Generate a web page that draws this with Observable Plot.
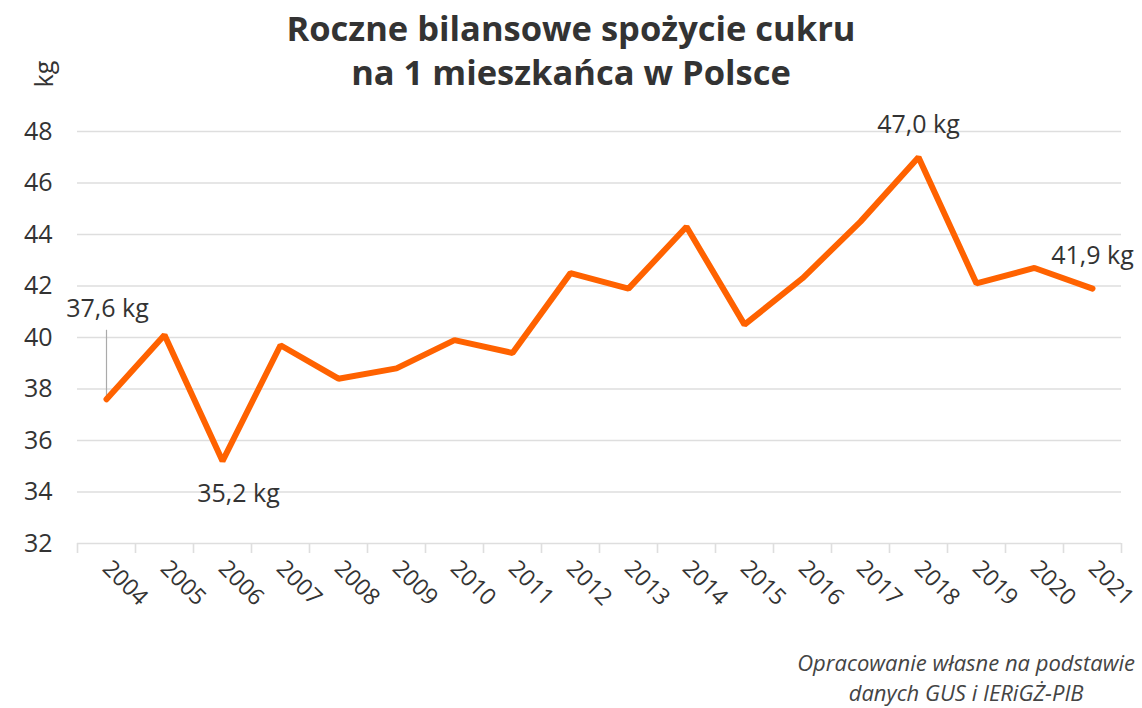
<!DOCTYPE html>
<html>
<head>
<meta charset="utf-8">
<script src="https://cdn.jsdelivr.net/npm/d3@7"></script>
<script src="https://cdn.jsdelivr.net/npm/@observablehq/plot@0.6"></script>
<style>
  html, body { margin: 0; padding: 0; background: #fff; }
  #wrap { position: relative; width: 1142px; height: 708px; overflow: hidden; font-family: "Open Sans", sans-serif; }
  #title { position: absolute; left: 0; top: 6px; width: 1142px; text-align: center; font-weight: 700; font-size: 34.5px; line-height: 44px; color: #333; }
  #caption { position: absolute; right: 7px; top: 647px; text-align: center; font-style: italic; font-size: 22px; line-height: 30px; color: #444; }
  #chart { position: absolute; left: 0; top: 0; }
</style>
</head>
<body>
<div id="wrap">
  <div id="chart"></div>
  <div id="title">Roczne bilansowe spożycie cukru<br>na 1 mieszkańca w Polsce</div>
  <div id="caption">Opracowanie własne na podstawie<br>danych GUS i IERiGŻ-PIB</div>
</div>
<script>
const years = [2004, 2005, 2006, 2007, 2008, 2009, 2010, 2011, 2012, 2013, 2014, 2015, 2016, 2017, 2018, 2019, 2020, 2021];
const consumption = [37.6, 40.1, 35.2, 39.7, 38.4, 38.8, 39.9, 39.4, 42.5, 41.9, 44.3, 40.5, 42.3, 44.5, 47.0, 42.1, 42.7, 41.9];
const yTicks = [32, 34, 36, 38, 40, 42, 44, 46, 48];
const unitLabel = "kg";

const data = years.map((year, i) => ({year, value: consumption[i]}));
const fmt = v => v.toFixed(1).replace(".", ",") + " " + unitLabel;
const pick = y => data.filter(d => d.year === y);
const bounds = years.map(y => y - 0.5).concat([years[years.length - 1] + 0.5]);

const textColor = "#333";
const gridColor = "#dedede";
const orange = "#ff6200";

const chart = Plot.plot({
  width: 1142,
  height: 708,
  marginTop: 131,
  marginBottom: 165,
  marginLeft: 77,
  marginRight: 21,
  style: {fontFamily: "'Open Sans', sans-serif", fontSize: "25px", color: textColor, background: "transparent", overflow: "visible"},
  x: {domain: [bounds[0], bounds[bounds.length - 1]]},
  y: {domain: [32, 48]},
  marks: [
    Plot.gridY(yTicks, {stroke: gridColor, strokeOpacity: 1, strokeWidth: 1.6}),
    Plot.axisY({ticks: yTicks, tickSize: 0, tickPadding: 25, label: null, fill: textColor, fontSize: 25}),
    Plot.axisX({ticks: bounds, tickSize: 10, tickFormat: () => "", label: null, stroke: gridColor, strokeWidth: 1.6}),
    Plot.axisX({ticks: years, tickSize: 0, tickPadding: 21, tickRotate: 45, tickFormat: d => String(d), label: null, fill: textColor, fontSize: 23}),
    Plot.text([unitLabel], {frameAnchor: "top-left", dx: -42, dy: -44, rotate: -90, fill: textColor, fontSize: 25}),
    Plot.ruleX(pick(2004), {x: "year", y1: "value", y2: "value", insetTop: -69, stroke: "#aaa", strokeWidth: 1.2}),
    Plot.line(data, {x: "year", y: "value", stroke: orange, strokeWidth: 6, strokeLinejoin: "miter"}),
    Plot.text(pick(2004), {x: "year", y: "value", text: d => fmt(d.value), dy: -90, dx: 1, fill: textColor, fontSize: 25}),
    Plot.text(pick(2006), {x: "year", y: "value", text: d => fmt(d.value), dy: 33, dx: 16, fill: textColor, fontSize: 25}),
    Plot.text(pick(2018), {x: "year", y: "value", text: d => fmt(d.value), dy: -32, fill: textColor, fontSize: 25}),
    Plot.text(pick(2021), {x: "year", y: "value", text: d => fmt(d.value), dy: -33, fill: textColor, fontSize: 25})
  ]
});
document.getElementById("chart").appendChild(chart);
</script>
</body>
</html>
